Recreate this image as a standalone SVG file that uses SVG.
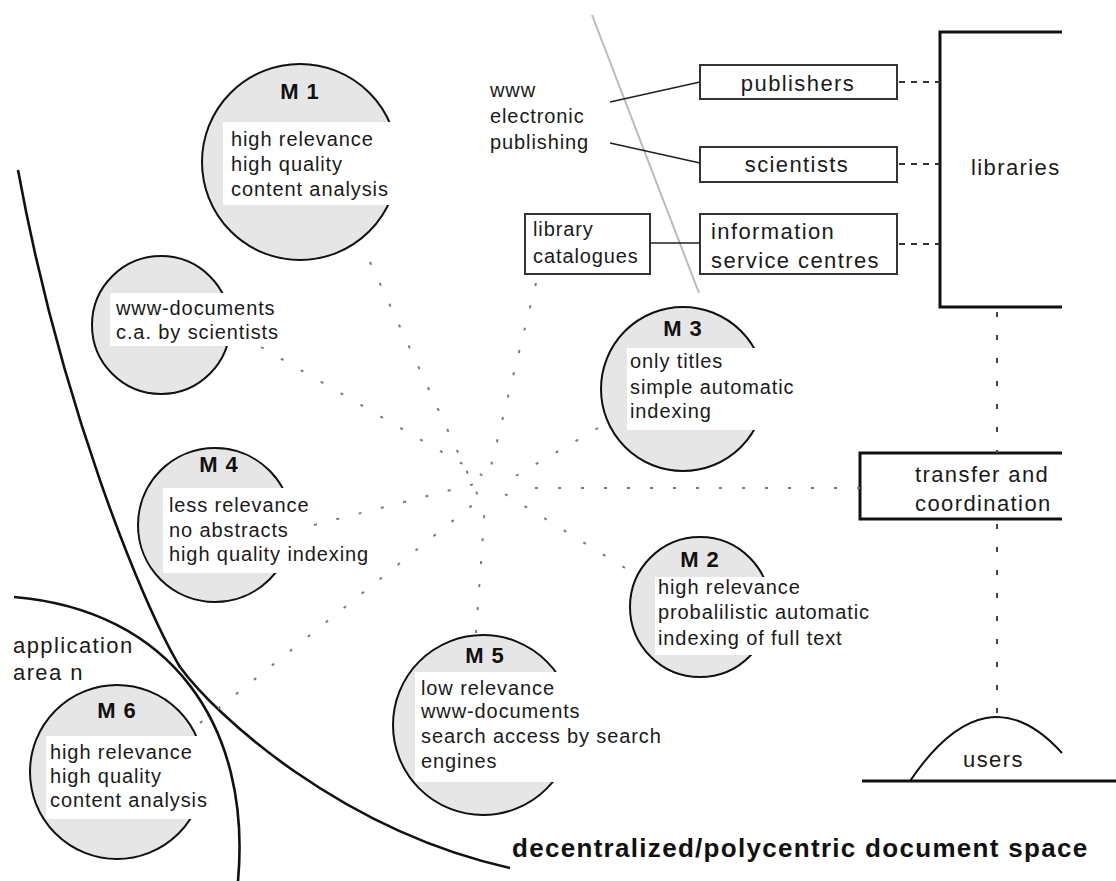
<svg xmlns="http://www.w3.org/2000/svg" width="1116" height="881" viewBox="0 0 1116 881">
<style>
.t { font-family: "Liberation Sans", Arial, Helvetica, sans-serif; font-size: 20px; letter-spacing: 0.9px; fill: #1a1a1a; }
.tb { font-size: 22px; letter-spacing: 1.4px; }
.h { font-weight: bold; font-size: 22px; letter-spacing: 1px; text-anchor: middle; fill: #111; }
.mid { text-anchor: middle; }
.title { font-weight: bold; font-size: 26px; letter-spacing: 1.3px; fill: #111; }
.circ { fill: #e6e6e6; stroke: #111; stroke-width: 2; }
.wb { fill: #ffffff; }
.box { fill: #ffffff; stroke: #333; stroke-width: 2; }
.frame { fill: none; stroke: #111; stroke-width: 3; }
.dot { fill: none; stroke: #7a7a7a; stroke-width: 2; stroke-dasharray: 3 20; }
.dash { fill: none; stroke: #333; stroke-width: 2; stroke-dasharray: 6 6; }
.vdash { fill: none; stroke: #444; stroke-width: 2; stroke-dasharray: 5 18; }
.solid { fill: none; stroke: #222; stroke-width: 1.6; }
.bound { fill: none; stroke: #111; stroke-width: 2.6; }
</style>
<rect width="1116" height="881" fill="#ffffff"/>

<g id="boundaries">
  <path class="bound" d="M18,170 C60,400 140,600 180,667 C215,715 340,830 510,868"/>
  <path class="bound" d="M14,597 C170,610 252,725 238,881" stroke-width="2"/>
  <line x1="592" y1="15" x2="699" y2="293" stroke="#bbbbbb" stroke-width="2"/>
</g>

<g id="m1">
  <circle class="circ" cx="300" cy="162" r="98"/>
  <rect class="wb" x="223" y="122" width="180" height="83"/>
  <text class="t h" x="300" y="99">M 1</text>
  <text class="t"><tspan x="231" y="146">high relevance</tspan><tspan x="231" y="171">high quality</tspan><tspan x="231" y="196">content analysis</tspan></text>
</g>

<g id="www-documents">
  <circle class="circ" cx="161" cy="325" r="69"/>
  <rect class="wb" x="110" y="293" width="174" height="53"/>
  <text class="t"><tspan x="116" y="315">www-documents</tspan><tspan x="116" y="339">c.a. by scientists</tspan></text>
</g>

<g id="m4">
  <circle class="circ" cx="215" cy="525" r="77"/>
  <rect class="wb" x="163" y="488" width="211" height="85"/>
  <text class="t h" x="219" y="472">M 4</text>
  <text class="t"><tspan x="169" y="512">less relevance</tspan><tspan x="169" y="537">no abstracts</tspan><tspan x="169" y="561">high quality indexing</tspan></text>
</g>

<g id="m3">
  <circle class="circ" cx="683" cy="389" r="82"/>
  <rect class="wb" x="627" y="348" width="174" height="82"/>
  <text class="t h" x="683" y="336">M 3</text>
  <text class="t"><tspan x="630" y="368">only titles</tspan><tspan x="630" y="394">simple automatic</tspan><tspan x="630" y="418">indexing</tspan></text>
</g>

<g id="m2">
  <circle class="circ" cx="700" cy="607" r="70"/>
  <rect class="wb" x="655" y="577" width="220" height="78"/>
  <text class="t h" x="700" y="567">M 2</text>
  <text class="t"><tspan x="658" y="594">high relevance</tspan><tspan x="658" y="619">probalilistic automatic</tspan><tspan x="658" y="645">indexing of full text</tspan></text>
</g>

<g id="m5">
  <circle class="circ" cx="483" cy="725" r="90"/>
  <rect class="wb" x="415" y="672" width="257" height="110"/>
  <text class="t h" x="485" y="663">M 5</text>
  <text class="t"><tspan x="421" y="695">low relevance</tspan><tspan x="421" y="718">www-documents</tspan><tspan x="421" y="743">search access by search</tspan><tspan x="421" y="768">engines</tspan></text>
</g>

<g id="m6">
  <circle class="circ" cx="117" cy="772" r="87"/>
  <rect class="wb" x="46" y="736" width="168" height="83"/>
  <text class="t h" x="117" y="718">M 6</text>
  <text class="t"><tspan x="50" y="759">high relevance</tspan><tspan x="50" y="783">high quality</tspan><tspan x="50" y="807">content analysis</tspan></text>
</g>

<g id="application-area">
  <text class="t tb"><tspan x="13" y="653">application</tspan><tspan x="13" y="680">area n</tspan></text>
</g>

<g id="www-electronic-publishing">
  <text class="t"><tspan x="490" y="97">www</tspan><tspan x="490" y="123">electronic</tspan><tspan x="490" y="149">publishing</tspan></text>
</g>

<g id="library-catalogues">
  <rect class="box" x="525" y="214" width="125" height="60"/>
  <text class="t"><tspan x="533" y="236">library</tspan><tspan x="533" y="263">catalogues</tspan></text>
</g>

<g id="publishers">
  <rect class="box" x="700" y="65" width="197" height="34"/>
  <text class="t tb mid" x="798" y="91">publishers</text>
</g>

<g id="scientists">
  <rect class="box" x="700" y="147" width="197" height="35"/>
  <text class="t tb mid" x="797" y="172">scientists</text>
</g>

<g id="information-service-centres">
  <rect class="box" x="700" y="214" width="197" height="60" stroke="#111" stroke-width="2.5"/>
  <text class="t tb"><tspan x="711" y="239">information</tspan><tspan x="711" y="268">service centres</tspan></text>
</g>

<g id="libraries">
  <path class="frame" d="M1062,32 H940 V307 H1062"/>
  <text class="t tb" x="971" y="175">libraries</text>
</g>

<g id="transfer-and-coordination">
  <path class="frame" d="M1062,453 H860 V519 H1062"/>
  <text class="t tb"><tspan x="915" y="482">transfer and</tspan><tspan x="915" y="511">coordination</tspan></text>
</g>

<g id="users">
  <line x1="862" y1="781" x2="1116" y2="781" stroke="#111" stroke-width="3"/>
  <path d="M910,781 Q986,669 1062,753" fill="none" stroke="#111" stroke-width="2"/>
  <text class="t tb" x="963" y="767">users</text>
</g>

<g id="caption">
  <text class="t title" x="512" y="857">decentralized/polycentric document space</text>
</g>

<g id="connectors">
  <line class="solid" x1="610" y1="102" x2="700" y2="82"/>
  <line class="solid" x1="610" y1="143" x2="700" y2="163"/>
  <line class="solid" x1="650" y1="243" x2="700" y2="243"/>
  <line class="dash" x1="899" y1="82" x2="940" y2="82"/>
  <line class="dash" x1="899" y1="164" x2="940" y2="164"/>
  <line class="dash" x1="899" y1="244" x2="940" y2="244"/>
  <line class="vdash" x1="997" y1="312" x2="997" y2="453"/>
  <line class="vdash" x1="997" y1="524" x2="997" y2="717"/>
  <line class="dot" x1="370" y1="262" x2="480" y2="500"/>
  <line class="dot" x1="261" y1="347" x2="485" y2="477"/>
  <line class="dot" x1="536" y1="283" x2="490" y2="470"/>
  <line class="dot" x1="598" y1="428" x2="512" y2="478"/>
  <line class="dot" x1="860" y1="488" x2="522" y2="488"/>
  <line class="dot" x1="625" y1="568" x2="505" y2="494"/>
  <line class="dot" x1="476" y1="633" x2="485" y2="505"/>
  <line class="dot" x1="200" y1="723" x2="475" y2="503"/>
  <line class="dot" x1="314" y1="525" x2="490" y2="480"/>
</g>
</svg>
